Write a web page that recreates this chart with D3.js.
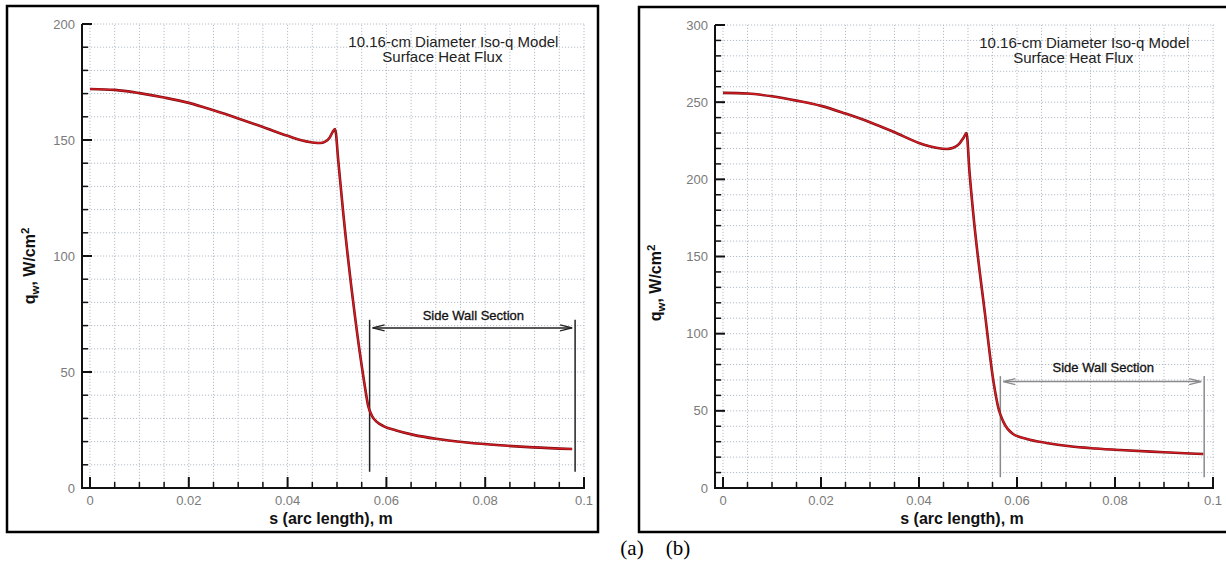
<!DOCTYPE html>
<html>
<head>
<meta charset="utf-8">
<script src="https://cdn.jsdelivr.net/npm/d3@7"></script>
<style>
  html, body { margin: 0; padding: 0; background: #fff; }
  svg { display: block; }
</style>
</head>
<body>
<svg id="chart" width="1226" height="563"></svg>
<script>
// Surface heat flux along the arc length, two test conditions (a) and (b)
const sA = [0, 0.005, 0.01, 0.015, 0.02, 0.025, 0.03, 0.035, 0.04, 0.043, 0.0455, 0.0466, 0.0476, 0.0485, 0.0491, 0.0496,
            0.0503, 0.0513, 0.0536, 0.0555, 0.0563, 0.0571, 0.058, 0.0595, 0.062, 0.0655, 0.07, 0.0763, 0.083, 0.0897, 0.0976];
const qA = [172, 171.6, 170.2, 168.3, 166, 162.8, 159.3, 155.6, 151.8, 149.8, 148.8, 148.7, 149.3, 151, 153.4, 154.7,
            140, 117.7, 74.6, 45.7, 35.5, 31, 28.6, 26.6, 24.8, 22.9, 21.2, 19.6, 18.4, 17.5, 16.8];

const sB = [0, 0.005, 0.01, 0.015, 0.02, 0.025, 0.03, 0.035, 0.04, 0.0435, 0.0457, 0.047, 0.0482, 0.0491, 0.0497,
            0.0503, 0.0511, 0.0535, 0.0552, 0.0562, 0.0572, 0.0592, 0.062, 0.066, 0.0708, 0.076, 0.081, 0.09, 0.098];
const qB = [256, 255.6, 253.8, 251, 247.6, 242.6, 237, 230.5, 223.6, 220.5, 219.7, 220.5, 223, 227, 230,
            205, 176.9, 112, 68.9, 51.8, 43, 35, 31.8, 29.2, 27, 25.6, 24.6, 23.2, 22];

const xTickValues = [0, 0.02, 0.04, 0.06, 0.08, 0.1];
const xTickLabels = ["0", "0.02", "0.04", "0.06", "0.08", "0.1"];
const yTicksA = [0, 50, 100, 150, 200];
const yTicksB = [0, 50, 100, 150, 200, 250, 300];

// Side wall section bounds (arc length) and marker heights (heat flux)
const sideWallS = [0.0566, 0.0982];
const sideWallQ = [7, 72.5, 69];

const titleLines = ["10.16-cm Diameter Iso-q Model", "Surface Heat Flux"];
const xLabel = "s (arc length), m";
const captions = ["(a)", "(b)"];

const svg = d3.select("#chart");

function drawPanel(cfg) {
  const g = svg.append("g");

  // outer frame
  g.append("rect")
    .attr("x", cfg.frame[0]).attr("y", cfg.frame[1])
    .attr("width", cfg.frame[2]).attr("height", cfg.frame[3])
    .attr("fill", "#fff").attr("stroke", "#000").attr("stroke-width", 2.5);

  const x = d3.scaleLinear().domain([0, 0.1]).range(cfg.xRange);
  const y = d3.scaleLinear().domain([0, cfg.yMax]).range(cfg.yRange);
  const axisX = cfg.axisX;      // pixel position of the vertical axis line
  const x0 = axisX, x1 = x(0.1);
  const y0 = y(0), y1 = y(cfg.yMax);

  // dotted grid
  const grid = g.append("g").attr("stroke", "#b4bec8").attr("stroke-width", 1)
    .attr("stroke-dasharray", "1.2,1.8");
  const yMinor = d3.range(0, cfg.yMax + 0.1, 10);
  grid.selectAll(".gh").data(yMinor.filter(v => v > 0)).join("line")
    .attr("x1", x0).attr("x2", x1 + 2)
    .attr("y1", d => y(d)).attr("y2", d => y(d));
  const xMinor = d3.range(0, 0.1001, 0.005);
  grid.selectAll(".gv").data(xMinor).join("line")
    .attr("x1", d => x(d)).attr("x2", d => x(d))
    .attr("y1", y0).attr("y2", y1);

  // axes lines
  g.append("line").attr("x1", axisX).attr("x2", axisX).attr("y1", y0 + 1).attr("y2", y1)
    .attr("stroke", "#111").attr("stroke-width", 2);
  g.append("line").attr("x1", axisX - 1).attr("x2", x1 + 1).attr("y1", y0).attr("y2", y0)
    .attr("stroke", "#111").attr("stroke-width", 2);

  // y ticks (inward)
  g.selectAll(".ytm").data(yMinor).join("line")
    .attr("x1", axisX).attr("x2", d => axisX + (d % 50 === 0 ? 10 : 6))
    .attr("y1", d => y(d)).attr("y2", d => y(d))
    .attr("stroke", "#111").attr("stroke-width", d => d % 50 === 0 ? 2 : 1.5);
  // x ticks (inward)
  g.selectAll(".xtm").data(xMinor).join("line")
    .attr("x1", d => x(d)).attr("x2", d => x(d))
    .attr("y1", y0).attr("y2", (d, i) => y0 - (i % 4 === 0 ? 11 : 6))
    .attr("stroke", "#111").attr("stroke-width", (d, i) => i % 4 === 0 ? 2 : 1.5);

  // tick labels
  g.selectAll(".ytl").data(cfg.yTicks).join("text")
    .attr("x", axisX - 7).attr("y", d => y(d)).attr("dy", "0.35em")
    .attr("text-anchor", "end")
    .attr("font-family", "Liberation Sans, Arial, sans-serif").attr("font-size", 13)
    .attr("fill", "#7a7a7a").text(d => d);
  g.selectAll(".xtl").data(xTickValues).join("text")
    .attr("x", d => x(d)).attr("y", y0 + 17)
    .attr("text-anchor", "middle")
    .attr("font-family", "Liberation Sans, Arial, sans-serif").attr("font-size", 13)
    .attr("fill", "#7a7a7a").text((d, i) => xTickLabels[i]);

  // axis titles
  g.append("text")
    .attr("x", (x(0) + x(0.1)) / 2 - 6).attr("y", y0 + 36)
    .attr("text-anchor", "middle")
    .attr("font-family", "Liberation Sans, Arial, sans-serif").attr("font-size", 16)
    .attr("font-weight", "bold").attr("fill", "#111").text(xLabel);

  const yl = g.append("text")
    .attr("transform", `translate(${cfg.yLabelPos[0]},${cfg.yLabelPos[1]}) rotate(-90)`)
    .attr("text-anchor", "middle")
    .attr("font-family", "Liberation Sans, Arial, sans-serif").attr("font-size", 16)
    .attr("font-weight", "bold").attr("fill", "#111");
  yl.append("tspan").text("q");
  yl.append("tspan").attr("dy", 4).attr("font-size", 11.5).text("w");
  yl.append("tspan").attr("dy", -4).text(", W/cm");
  yl.append("tspan").attr("dy", -6).attr("font-size", 11.5).text("2");

  // title block
  const tx = x(0.0523);
  g.append("text").attr("x", tx).attr("y", cfg.frame[1] + 41)
    .attr("font-family", "Liberation Sans, Arial, sans-serif").attr("font-size", 15)
    .attr("fill", "#222").text(titleLines[0]);
  g.append("text").attr("x", tx + 34).attr("y", cfg.frame[1] + 56)
    .attr("font-family", "Liberation Sans, Arial, sans-serif").attr("font-size", 15)
    .attr("fill", "#222").text(titleLines[1]);

  // side wall section marker
  const sx0 = x(sideWallS[0]), sx1 = x(sideWallS[1]);
  const mk = g.append("g").attr("stroke", cfg.markColor).attr("fill", "none");
  mk.selectAll(".sw").data(sideWallS).join("line")
    .attr("x1", d => x(d)).attr("x2", d => x(d))
    .attr("y1", y(sideWallQ[0])).attr("y2", y(sideWallQ[1]))
    .attr("stroke-width", 1.5);
  const ay = y(sideWallQ[2]);
  mk.append("line").attr("x1", sx0 + 3).attr("x2", sx1 - 3).attr("y1", ay).attr("y2", ay)
    .attr("stroke-width", 1.5);
  mk.append("path").attr("d", `M${sx0 + 15},${ay - 3}L${sx0 + 3},${ay}L${sx0 + 15},${ay + 3}`)
    .attr("stroke-width", 1.3);
  mk.append("path").attr("d", `M${sx1 - 15},${ay - 3}L${sx1 - 3},${ay}L${sx1 - 15},${ay + 3}`)
    .attr("stroke-width", 1.3);
  g.append("text").attr("x", (sx0 + sx1) / 2 + 1).attr("y", ay - cfg.labelGap)
    .attr("text-anchor", "middle")
    .attr("font-family", "Liberation Sans, Arial, sans-serif").attr("font-size", 13)
    .attr("fill", "#111").attr("stroke", "#111").attr("stroke-width", 0.3)
    .text("Side Wall Section");

  // heat flux curve
  const line = d3.line().x(d => x(d[0])).y(d => y(d[1])).curve(d3.curveMonotoneX);
  const pts = cfg.s.map((v, i) => [v, cfg.q[i]]);
  g.append("path").datum(pts).attr("d", line)
    .attr("fill", "none").attr("stroke", "#7a0d12").attr("stroke-width", 2.6)
    .attr("stroke-linejoin", "round");
  g.append("path").datum(pts).attr("d", line)
    .attr("fill", "none").attr("stroke", "#d81e24").attr("stroke-width", 1.3)
    .attr("stroke-linejoin", "round");
}

drawPanel({
  frame: [7, 6, 591, 526],
  xRange: [90, 584], yRange: [488, 24], axisX: 82, yMax: 200,
  yTicks: yTicksA, s: sA, q: qA,
  yLabelPos: [35, 266], markColor: "#222", labelGap: 8
});

drawPanel({
  frame: [639, 7, 592, 525],
  xRange: [723, 1213], yRange: [488, 25], axisX: 715, yMax: 300,
  yTicks: yTicksB, s: sB, q: qB,
  yLabelPos: [661, 283], markColor: "#8a8a8a", labelGap: 10
});

// sub-figure captions
svg.append("text").attr("x", 632).attr("y", 555).attr("text-anchor", "middle")
  .attr("font-family", "Liberation Serif, Times New Roman, serif").attr("font-size", 21)
  .attr("fill", "#000").text(captions[0]);
svg.append("text").attr("x", 678).attr("y", 555).attr("text-anchor", "middle")
  .attr("font-family", "Liberation Serif, Times New Roman, serif").attr("font-size", 21)
  .attr("fill", "#000").text(captions[1]);
</script>
</body>
</html>
